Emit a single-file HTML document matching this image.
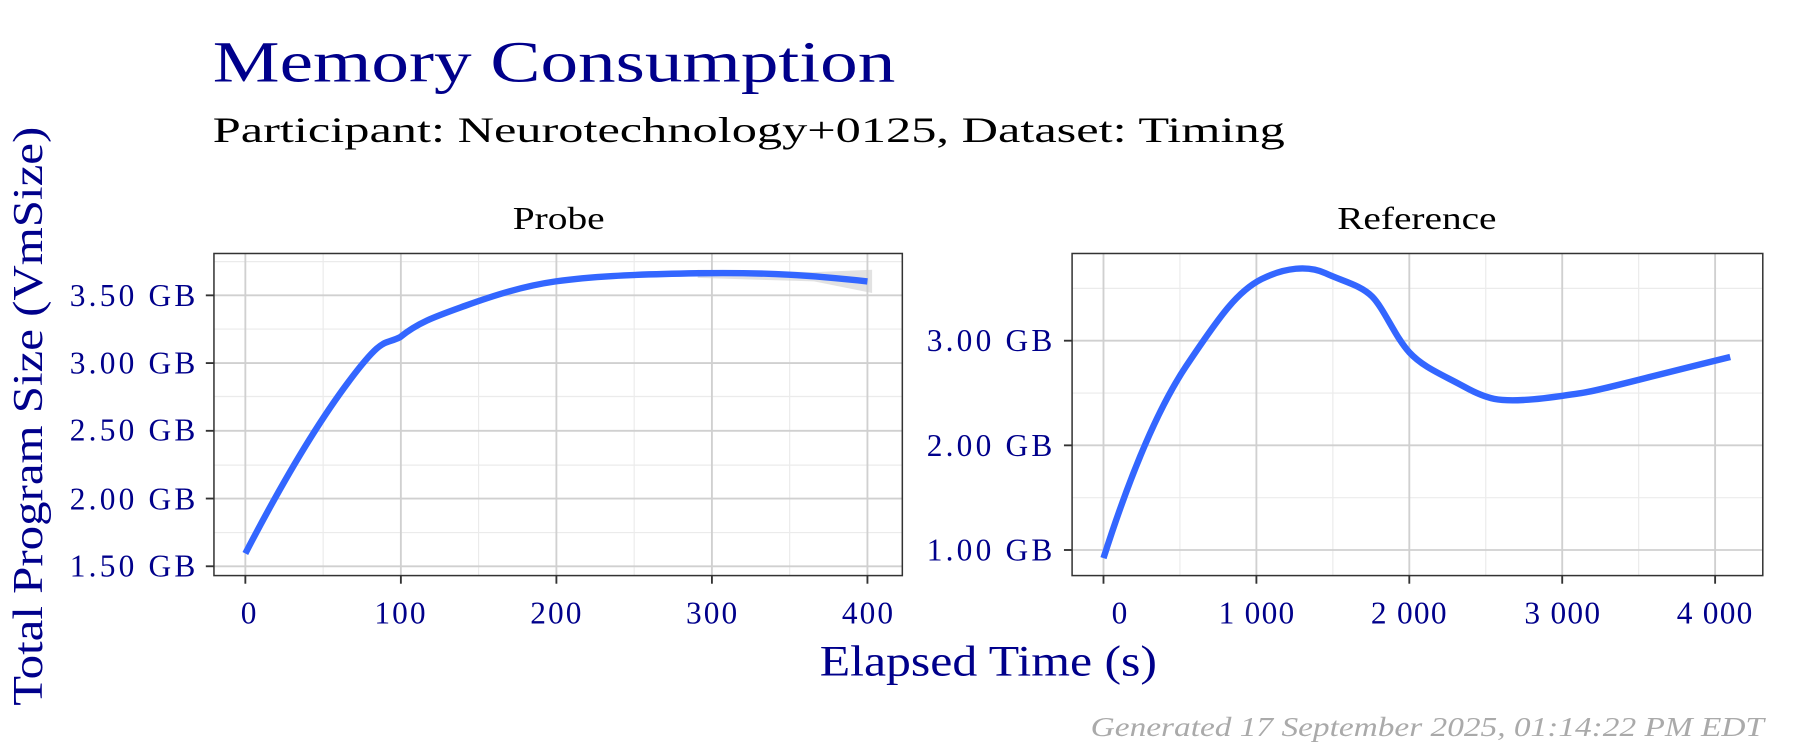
<!DOCTYPE html>
<html><head><meta charset="utf-8"><style>html,body{margin:0;padding:0;background:#fff}svg{display:block}</style></head>
<body>
<svg width="1800" height="750" viewBox="0 0 1548 645" preserveAspectRatio="none" xmlns="http://www.w3.org/2000/svg" font-family="'Liberation Serif', serif">
<rect width="1548" height="645" fill="#fff"/>
<text x="183" y="70" font-size="50" fill="#00008B" textLength="587" lengthAdjust="spacingAndGlyphs">Memory Consumption</text>
<text x="183" y="122" font-size="31" fill="#000" textLength="922" lengthAdjust="spacingAndGlyphs">Participant: Neurotechnology+0125, Dataset: Timing</text>
<text x="441" y="197" font-size="27" textLength="79" lengthAdjust="spacingAndGlyphs">Probe</text>
<text x="1150" y="197" font-size="27" textLength="137" lengthAdjust="spacingAndGlyphs">Reference</text>
<!-- Panel 1 -->
<g stroke="#ebebeb" stroke-width="1">
<line x1="277.9" y1="218" x2="277.9" y2="495"/><line x1="411.6" y1="218" x2="411.6" y2="495"/><line x1="545.4" y1="218" x2="545.4" y2="495"/><line x1="679.1" y1="218" x2="679.1" y2="495"/>
<line x1="184" y1="225" x2="776" y2="225"/><line x1="184" y1="283" x2="776" y2="283"/><line x1="184" y1="341" x2="776" y2="341"/><line x1="184" y1="400" x2="776" y2="400"/><line x1="184" y1="458" x2="776" y2="458"/>
</g>
<g stroke="#d0d0d0" stroke-width="1.6">
<line x1="211" y1="218" x2="211" y2="495"/><line x1="344.75" y1="218" x2="344.75" y2="495"/><line x1="478.5" y1="218" x2="478.5" y2="495"/><line x1="612.25" y1="218" x2="612.25" y2="495"/><line x1="746" y1="218" x2="746" y2="495"/>
<line x1="184" y1="254" x2="776" y2="254"/><line x1="184" y1="312.25" x2="776" y2="312.25"/><line x1="184" y1="370.5" x2="776" y2="370.5"/><line x1="184" y1="428.75" x2="776" y2="428.75"/><line x1="184" y1="487" x2="776" y2="487"/>
</g>
<path d="M600,232 L700,234 L750,232 L750,252 L700,242 L600,239Z" fill="#cfcfcf" opacity="0.6"/>
<path d="M211,476 C240,420 270,368 300,328 S330,297 344,290 C360,277 375,272 400,263 S450,246 478,242 S540,236 600,235 S700,237 746,242" fill="none" stroke="#3366FF" stroke-width="5.5"/>
<rect x="184" y="218" width="592" height="277" fill="none" stroke="#333" stroke-width="1.3"/>
<g stroke="#333" stroke-width="1.6">
<line x1="177" y1="254" x2="184" y2="254"/><line x1="177" y1="312.25" x2="184" y2="312.25"/><line x1="177" y1="370.5" x2="184" y2="370.5"/><line x1="177" y1="428.75" x2="184" y2="428.75"/><line x1="177" y1="487" x2="184" y2="487"/>
<line x1="211" y1="495" x2="211" y2="502"/><line x1="344.75" y1="495" x2="344.75" y2="502"/><line x1="478.5" y1="495" x2="478.5" y2="502"/><line x1="612.25" y1="495" x2="612.25" y2="502"/><line x1="746" y1="495" x2="746" y2="502"/>
</g>
<g font-size="27" fill="#00008B" lengthAdjust="spacingAndGlyphs">
<text x="60" y="263" textLength="108">3.50 GB</text><text x="60" y="321" textLength="108">3.00 GB</text><text x="60" y="379" textLength="108">2.50 GB</text><text x="60" y="438" textLength="108">2.00 GB</text><text x="60" y="496" textLength="108">1.50 GB</text>
</g>
<g font-size="27" fill="#00008B" lengthAdjust="spacingAndGlyphs">
<text x="207" y="536" textLength="15">0</text><text x="322" y="536" textLength="44">100</text><text x="456" y="536" textLength="44">200</text><text x="590" y="536" textLength="44">300</text><text x="724" y="536" textLength="44">400</text>
</g>
<!-- Panel 2 -->
<g stroke="#ebebeb" stroke-width="1">
<line x1="1014.75" y1="218" x2="1014.75" y2="495"/><line x1="1146.25" y1="218" x2="1146.25" y2="495"/><line x1="1277.75" y1="218" x2="1277.75" y2="495"/><line x1="1409.25" y1="218" x2="1409.25" y2="495"/>
<line x1="922" y1="248" x2="1516" y2="248"/><line x1="922" y1="338" x2="1516" y2="338"/><line x1="922" y1="428" x2="1516" y2="428"/>
</g>
<g stroke="#d0d0d0" stroke-width="1.6">
<line x1="949" y1="218" x2="949" y2="495"/><line x1="1080.5" y1="218" x2="1080.5" y2="495"/><line x1="1212" y1="218" x2="1212" y2="495"/><line x1="1343.5" y1="218" x2="1343.5" y2="495"/><line x1="1475" y1="218" x2="1475" y2="495"/>
<line x1="922" y1="293" x2="1516" y2="293"/><line x1="922" y1="383" x2="1516" y2="383"/><line x1="922" y1="473" x2="1516" y2="473"/>
</g>
<path d="M949,480 C965,430 990,360 1020,315 S1065,250 1085,240 S1125,228 1140,235 S1170,245 1180,255 S1200,290 1212,303 S1240,322 1260,333 S1290,345 1310,344 S1345,340 1360,338 S1410,326 1488,307" fill="none" stroke="#3366FF" stroke-width="5.5"/>
<rect x="922" y="218" width="594" height="277" fill="none" stroke="#333" stroke-width="1.3"/>
<g stroke="#333" stroke-width="1.6">
<line x1="915" y1="293" x2="922" y2="293"/><line x1="915" y1="383" x2="922" y2="383"/><line x1="915" y1="473" x2="922" y2="473"/>
<line x1="949" y1="495" x2="949" y2="502"/><line x1="1080.5" y1="495" x2="1080.5" y2="502"/><line x1="1212" y1="495" x2="1212" y2="502"/><line x1="1343.5" y1="495" x2="1343.5" y2="502"/><line x1="1475" y1="495" x2="1475" y2="502"/>
</g>
<g font-size="27" fill="#00008B" lengthAdjust="spacingAndGlyphs">
<text x="797" y="302" textLength="108">3.00 GB</text><text x="797" y="392" textLength="108">2.00 GB</text><text x="797" y="482" textLength="108">1.00 GB</text>
</g>
<g font-size="27" fill="#00008B" lengthAdjust="spacingAndGlyphs">
<text x="956" y="536" textLength="15">0</text><text x="1048" y="536" textLength="65">1 000</text><text x="1179" y="536" textLength="65">2 000</text><text x="1311" y="536" textLength="65">3 000</text><text x="1442" y="536" textLength="65">4 000</text>
</g>
<text x="705" y="581" font-size="37" fill="#00008B" textLength="290" lengthAdjust="spacingAndGlyphs">Elapsed Time (s)</text>
<text transform="translate(36,358) rotate(-90)" font-size="36" fill="#00008B" text-anchor="middle" textLength="498" lengthAdjust="spacingAndGlyphs">Total Program Size (VmSize)</text>
<text x="938" y="633" font-size="24" fill="#aaa" font-style="italic" textLength="579" lengthAdjust="spacingAndGlyphs">Generated 17 September 2025, 01:14:22 PM EDT</text>
</svg>
</body></html>
